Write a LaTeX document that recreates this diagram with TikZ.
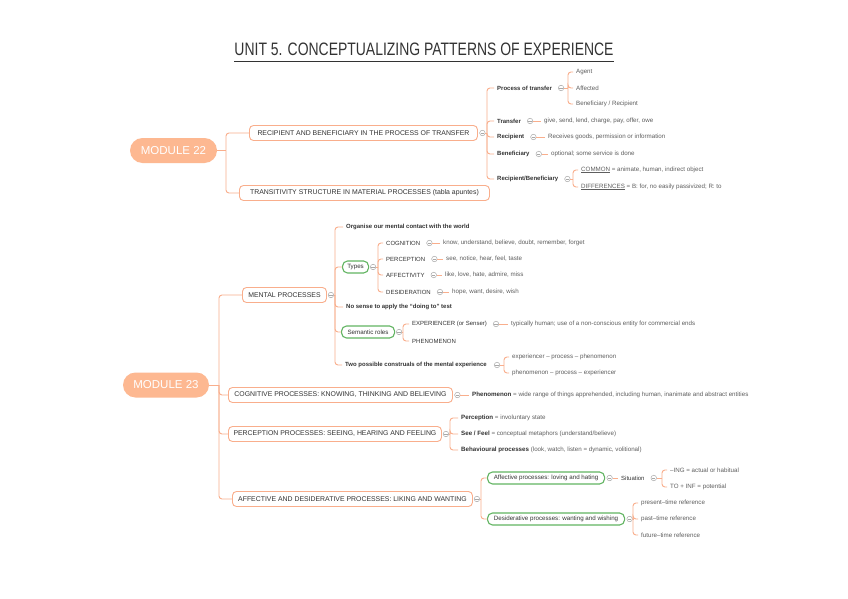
\documentclass[tikz,border=0pt]{standalone}
\usepackage{fontspec}
\setmainfont{Liberation Sans}
\definecolor{lineor}{HTML}{F9AE8C}
\definecolor{modfill}{HTML}{FDB891}
\definecolor{grn}{HTML}{62B462}
\definecolor{dark}{HTML}{333333}
\definecolor{detail}{HTML}{5E5E5E}
\definecolor{colgray}{HTML}{A8A8A8}
\newcommand\myfs[1]{\fontsize{#1}{#1}\selectfont}
\tikzset{
  conn/.style={draw=lineor,line width=0.9pt,rounded corners=3pt},
  module/.style={fill=modfill,rounded corners=12.5pt,minimum height=25pt,inner sep=0pt,text=white,font=\myfs{11.5}},
  box/.style={draw=lineor,line width=0.9pt,rounded corners=4pt,fill=white,minimum height=15pt,inner xsep=4pt,inner ysep=0pt,anchor=west,text=dark,font=\myfs{6.9}},
  gbox/.style={draw=grn,line width=1.1pt,rounded corners=5pt,fill=white,minimum height=12pt,inner xsep=3pt,inner ysep=0pt,anchor=west,text=dark,font=\myfs{6.2}},
  lbl/.style={anchor=west,inner xsep=3pt,inner ysep=1pt,text=detail,font=\myfs{6.2}},
  dlbl/.style={lbl,text=dark,font=\myfs{6}},
  blbl/.style={lbl,text=dark,font=\myfs{6}\bfseries},
  col/.style={circle,draw=colgray,line width=0.5pt,minimum size=5.5pt,inner sep=0pt,fill=white,
    path picture={\draw[colgray,line width=0.5pt] ([xshift=-1.7pt]path picture bounding box.center) -- ([xshift=1.7pt]path picture bounding box.center);}}
}
\begin{document}
\begin{tikzpicture}[x=1pt,y=-1pt]
\fill[white] (0,0) rectangle (848,599);
\useasboundingbox (0,0) rectangle (848,599);

% title
\node[inner sep=0pt,text=dark] (title) at (424,49.5) {\scalebox{0.775}[1]{\myfs{18}UNIT 5. CONCEPTUALIZING PATTERNS OF EXPERIENCE}};
\draw[dark,line width=0.8pt] ([yshift=-5.5pt]title.south west) -- ([yshift=-5.5pt]title.south east);

% ================= MODULE 22
\node[module,minimum width=87pt] (m22) at (173.5,150.5) {MODULE 22};
\coordinate (k_m22) at (226,150.5);
\node[box,minimum width=228pt] (r1) at (249,133) {RECIPIENT AND BENEFICIARY IN THE PROCESS OF TRANSFER};
\node[box,minimum width=250pt] (t1) at (239,193) {TRANSITIVITY STRUCTURE IN MATERIAL PROCESSES (tabla apuntes)};
\draw[conn] (m22.east) -- (k_m22);
\draw[conn] (k_m22) |- (r1.west);
\draw[conn] (k_m22) |- (t1.west);

\node[col] (c_r1) at ([xshift=4.5pt]r1.east) {};
\coordinate (k_r1) at (487,133);
\node[blbl] (pt) at (494,88) {Process of transfer};
\node[blbl] (tr) at (494,121) {Transfer};
\node[blbl] (rc) at (494,137) {Recipient};
\node[blbl] (bn) at (494,154) {Beneficiary};
\node[blbl] (rb) at (494,179) {Recipient/Beneficiary};
\draw[conn] (c_r1.east) -- (k_r1);
\foreach \n in {pt,tr,rc,bn,rb} \draw[conn] (k_r1) |- (\n.west);

\node[col] (c_pt) at ([xshift=6pt]pt.east) {};
\coordinate (k_pt) at (568,88);
\node[lbl] (ag) at (573,72) {Agent};
\node[lbl] (af) at (573,88) {Affected};
\node[lbl] (br) at (573,104) {Beneficiary / Recipient};
\draw[conn] (c_pt.east) -- (k_pt);
\foreach \n in {ag,af,br} \draw[conn] (k_pt) |- (\n.west);

\node[col] (c_tr) at ([xshift=6pt]tr.east) {};
\node[lbl] (trd) at (541,121) {give, send, lend, charge, pay, offer, owe};
\draw[conn] (c_tr.east) -- (trd.west);
\node[col] (c_rc) at ([xshift=6pt]rc.east) {};
\node[lbl] (rcd) at (545,137) {Receives goods, permission or information};
\draw[conn] (c_rc.east) -- (rcd.west);
\node[col] (c_bn) at ([xshift=6pt]bn.east) {};
\node[lbl] (bnd) at (548,154) {optional; some service is done};
\draw[conn] (c_bn.east) -- (bnd.west);

\node[col] (c_rb) at ([xshift=6pt]rb.east) {};
\coordinate (k_rb) at (573,179);
\node[lbl] (cm) at (578,170) {\underline{COMMON} = animate, human, indirect object};
\node[lbl] (df) at (578,187) {\underline{DIFFERENCES} = B: for, no easily passivized; R: to};
\draw[conn] (c_rb.east) -- (k_rb);
\foreach \n in {cm,df} \draw[conn] (k_rb) |- (\n.west);

% ================= MODULE 23
\node[module,minimum width=86pt] (m23) at (166,385) {MODULE 23};
\coordinate (k_m23) at (219,385);
\node[box,minimum width=84pt] (mp) at (242,295) {MENTAL PROCESSES};
\node[box,minimum width=224pt] (cg) at (228,395) {COGNITIVE PROCESSES: KNOWING, THINKING AND BELIEVING};
\node[box,minimum width=213pt] (pp) at (228,434) {PERCEPTION PROCESSES: SEEING, HEARING AND FEELING};
\node[box,minimum width=240pt] (ad) at (232,499) {AFFECTIVE AND DESIDERATIVE PROCESSES: LIKING AND WANTING};
\draw[conn] (m23.east) -- (k_m23);
\foreach \n in {mp,cg,pp,ad} \draw[conn] (k_m23) |- (\n.west);

% mental processes
\node[col] (c_mp) at ([xshift=4pt]mp.east) {};
\coordinate (k_mp) at (335,295);
\node[blbl] (org) at (343,227) {Organise our mental contact with the world};
\node[gbox,minimum width=26pt] (ty) at (342,267) {Types};
\node[blbl] (nos) at (343,307) {No sense to apply the “doing to” test};
\node[gbox,minimum width=53pt] (sr) at (341,332) {Semantic roles};
\node[blbl] (two) at (342,365) {Two possible construals of the mental experience};
\draw[conn] (c_mp.east) -- (k_mp);
\foreach \n in {org,ty,nos,sr,two} \draw[conn] (k_mp) |- (\n.west);

\node[col] (c_ty) at ([xshift=4pt]ty.east) {};
\coordinate (k_ty) at (378,267);
\node[dlbl] (cog) at (383,243) {COGNITION};
\node[dlbl] (per) at (383,259) {PERCEPTION};
\node[dlbl] (aff) at (383,275) {AFFECTIVITY};
\node[dlbl] (des) at (383,292) {DESIDERATION};
\draw[conn] (c_ty.east) -- (k_ty);
\foreach \n in {cog,per,aff,des} \draw[conn] (k_ty) |- (\n.west);

\node[col] (c_cog) at ([xshift=6pt]cog.east) {};
\node[lbl] (cogd) at (440,243) {know, understand, believe, doubt, remember, forget};
\draw[conn] (c_cog.east) -- (cogd.west);
\node[col] (c_per) at ([xshift=6pt]per.east) {};
\node[lbl] (perd) at (443,259) {see, notice, hear, feel, taste};
\draw[conn] (c_per.east) -- (perd.west);
\node[col] (c_aff) at ([xshift=6pt]aff.east) {};
\node[lbl] (affd) at (442,275) {like, love, hate, admire, miss};
\draw[conn] (c_aff.east) -- (affd.west);
\node[col] (c_des) at ([xshift=6pt]des.east) {};
\node[lbl] (desd) at (449,292) {hope, want, desire, wish};
\draw[conn] (c_des.east) -- (desd.west);

\node[col] (c_sr) at ([xshift=4pt]sr.east) {};
\coordinate (k_sr) at (403,332);
\node[dlbl] (exp) at (409,324) {EXPERIENCER (or Senser)};
\node[dlbl] (phe) at (409,341) {PHENOMENON};
\draw[conn] (c_sr.east) -- (k_sr);
\foreach \n in {exp,phe} \draw[conn] (k_sr) |- (\n.west);
\node[col] (c_exp) at (496,324) {};
\node[lbl] (expd) at (508,324) {typically human; use of a non-conscious entity for commercial ends};
\draw[conn] (c_exp.east) -- (expd.west);

\node[col] (c_two) at (497,365) {};
\coordinate (k_two) at (504,365);
\node[lbl] (e1) at (509,357) {experiencer – process – phenomenon};
\node[lbl] (e2) at (509,373) {phenomenon – process – experiencer};
\draw[conn] (c_two.east) -- (k_two);
\foreach \n in {e1,e2} \draw[conn] (k_two) |- (\n.west);

% cognitive
\node[col] (c_cg) at ([xshift=4.5pt]cg.east) {};
\node[lbl] (cgd) at (469,395) {\textcolor{dark}{\bfseries Phenomenon} = wide range of things apprehended, including human, inanimate and abstract entities};
\draw[conn] (c_cg.east) -- (cgd.west);

% perception
\node[col] (c_pp) at ([xshift=4pt]pp.east) {};
\coordinate (k_pp) at (450,434);
\node[lbl] (p1) at (458,418) {\textcolor{dark}{\bfseries Perception} = involuntary state};
\node[lbl] (p2) at (458,434) {\textcolor{dark}{\bfseries See / Feel} = conceptual metaphors (understand/believe)};
\node[lbl] (p3) at (458,450) {\textcolor{dark}{\bfseries Behavioural processes} (look, watch, listen = dynamic, volitional)};
\draw[conn] (c_pp.east) -- (k_pp);
\foreach \n in {p1,p2,p3} \draw[conn] (k_pp) |- (\n.west);

% affective / desiderative
\node[col] (c_ad) at ([xshift=4pt]ad.east) {};
\coordinate (k_ad) at (481,499);
\node[gbox,minimum width=117pt] (ap) at (487,478) {Affective processes: loving and hating};
\node[gbox,minimum width=137pt] (dp) at (487,519) {Desiderative processes: wanting and wishing};
\draw[conn] (c_ad.east) -- (k_ad);
\foreach \n in {ap,dp} \draw[conn] (k_ad) |- (\n.west);

\node[col] (c_ap) at ([xshift=4.5pt]ap.east) {};
\node[dlbl] (sit) at (618,478) {Situation};
\draw[conn] (c_ap.east) -- (sit.west);
\node[col] (c_sit) at ([xshift=6pt]sit.east) {};
\coordinate (k_sit) at (662,478);
\node[lbl] (s1) at (667,470) {–ING = actual or habitual};
\node[lbl] (s2) at (667,487) {TO + INF = potential};
\draw[conn] (c_sit.east) -- (k_sit);
\foreach \n in {s1,s2} \draw[conn] (k_sit) |- (\n.west);

\node[col] (c_dp) at ([xshift=4.5pt]dp.east) {};
\coordinate (k_dp) at (633,519);
\node[lbl] (d1) at (638,503) {present–time reference};
\node[lbl] (d2) at (638,519) {past–time reference};
\node[lbl] (d3) at (638,535) {future–time reference};
\draw[conn] (c_dp.east) -- (k_dp);
\foreach \n in {d1,d2,d3} \draw[conn] (k_dp) |- (\n.west);
\end{tikzpicture}
\end{document}
